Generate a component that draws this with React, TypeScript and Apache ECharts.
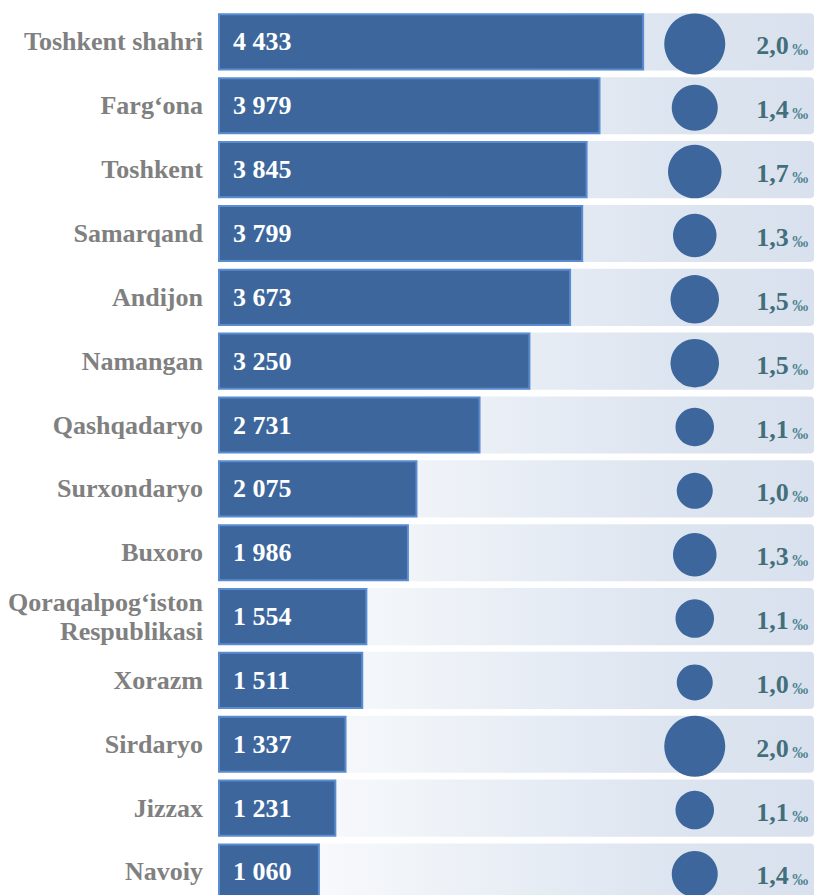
import React, { useEffect, useRef } from "react";
import * as echarts from "echarts";

const regions = [
  "Toshkent shahri",
  "Farg‘ona",
  "Toshkent",
  "Samarqand",
  "Andijon",
  "Namangan",
  "Qashqadaryo",
  "Surxondaryo",
  "Buxoro",
  "Qoraqalpog‘iston Respublikasi",
  "Xorazm",
  "Sirdaryo",
  "Jizzax",
  "Navoiy",
];

const counts = [4433, 3979, 3845, 3799, 3673, 3250, 2731, 2075, 1986, 1554, 1511, 1337, 1231, 1060];

const rates = [2.0, 1.4, 1.7, 1.3, 1.5, 1.5, 1.1, 1.0, 1.3, 1.1, 1.0, 2.0, 1.1, 1.4];

const columns = ["circle", "rate"];

const SERIF = "'Liberation Serif', 'Times New Roman', serif";

const fmtNum = (v: number) => String(v).replace(/\B(?=(\d{3})+(?!\d))/g, " ");
const fmtRate = (v: number) => v.toFixed(1).replace(".", ",");

export default function App() {
  const ref = useRef<HTMLDivElement>(null);

  useEffect(() => {
    if (!ref.current) return;
    const chart = echarts.init(ref.current, undefined, { renderer: "svg" });
    const gridTop = 10;
    const gridHeight = 14 * 63.85;

    chart.setOption({
      animation: false,
      backgroundColor: "#ffffff",
      grid: [
        { left: 218, right: 0, top: gridTop, height: gridHeight },
        { left: 655, right: 0, top: gridTop, height: gridHeight },
      ],
      xAxis: [
        {
          gridIndex: 0,
          type: "value",
          min: 0,
          max: 6200,
          show: false,
        },
        {
          gridIndex: 1,
          type: "category",
          data: columns,
          show: false,
        },
      ],
      yAxis: [
        {
          gridIndex: 0,
          type: "category",
          inverse: true,
          data: regions,
          axisLine: { show: false },
          axisTick: { show: false },
          splitLine: { show: false },
          axisLabel: {
            margin: 15,
            fontFamily: SERIF,
            fontWeight: "bold",
            fontSize: 26,
            lineHeight: 29,
            color: "#808080",
            formatter: (v: string) => v.replace(" Respublikasi", "\nRespublikasi"),
          },
        },
        {
          gridIndex: 1,
          type: "category",
          inverse: true,
          data: regions,
          show: false,
        },
      ],
      series: [
        {
          type: "bar",
          xAxisIndex: 0,
          yAxisIndex: 0,
          data: counts,
          barCategoryGap: "10.5%",
          showBackground: true,
          backgroundStyle: {
            color: new echarts.graphic.LinearGradient(0, 0, 1, 0, [
              { offset: 0, color: "#ffffff" },
              { offset: 0.75, color: "#dde5f0" },
              { offset: 1, color: "#d9e1ee" },
            ]),
            borderRadius: 4,
          },
          itemStyle: {
            color: "#3d679c",
            borderColor: "#5b8bd0",
            borderWidth: 2,
          },
          label: {
            show: true,
            position: "insideLeft",
            distance: 15,
            fontFamily: SERIF,
            fontWeight: "bold",
            fontSize: 26,
            color: "#ffffff",
            formatter: (p: any) => fmtNum(p.value),
          },
          silent: true,
        },
        {
          type: "scatter",
          xAxisIndex: 1,
          yAxisIndex: 1,
          data: rates.map((r, i) => [columns[0], regions[i], r]),
          symbol: "circle",
          symbolSize: (val: any) => 36 + (val[2] - 1) * 25,
          symbolOffset: [0, 2],
          itemStyle: { color: "#3d679c", opacity: 1 },
          silent: true,
        },
        {
          type: "scatter",
          xAxisIndex: 1,
          yAxisIndex: 1,
          data: rates.map((r, i) => [columns[1], regions[i], r]),
          symbol: "circle",
          symbolSize: 1,
          itemStyle: { color: "rgba(0,0,0,0)" },
          silent: true,
          label: {
            show: true,
            position: "inside",
            offset: [8, 4],
            formatter: (p: any) => `{a|${fmtRate(p.value[2])}} {b|‰}`,
            rich: {
              a: {
                fontFamily: SERIF,
                fontWeight: "bold",
                fontSize: 26,
                color: "#174f5d",
              },
              b: {
                fontFamily: SERIF,
                fontWeight: "bold",
                fontSize: 16,
                color: "#2b6a77",
                verticalAlign: "bottom",
                padding: [0, 0, 1, 0],
              },
            },
          },
        },
      ],
    });

    return () => chart.dispose();
  }, []);

  return (
    <div
      style={{
        position: "absolute",
        left: 0,
        top: 0,
        width: 814,
        height: 895,
        overflow: "hidden",
      }}
    >
      <div ref={ref} style={{ width: 814, height: 915 }} />
    </div>
  );
}
